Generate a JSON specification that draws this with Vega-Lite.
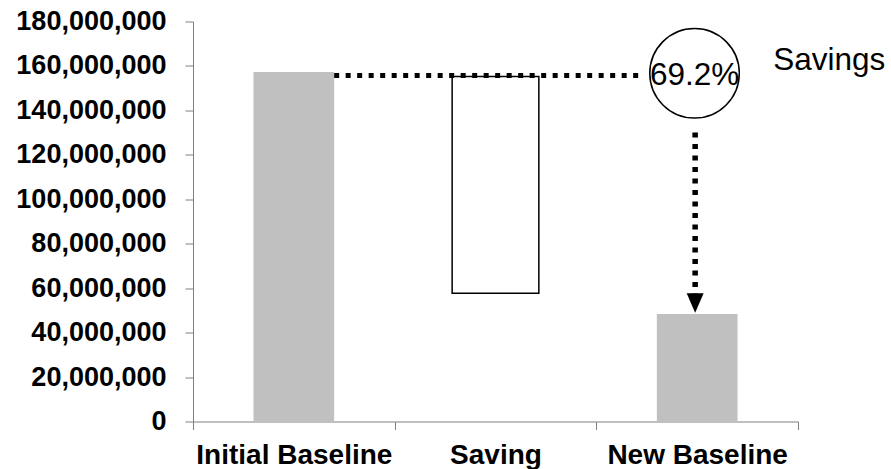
{
  "$schema": "https://vega.github.io/schema/vega-lite/v6.json",
  "width": 605,
  "height": 400,
  "autosize": "none",
  "padding": {"left": 193, "top": 21.5, "right": 93, "bottom": 47.5},
  "background": "white",
  "config": {
    "view": {"stroke": null},
    "font": "Liberation Sans",
    "axisX": {
      "domainColor": "#808080",
      "tickColor": "#808080",
      "tickSize": 8,
      "labelFont": "Liberation Sans",
      "labelFontSize": 28,
      "labelFontWeight": "bold",
      "labelColor": "#000000",
      "labelPadding": 12,
      "labelAngle": 0,
      "labelLimit": 400,
      "grid": false
    },
    "axisY": {
      "domainColor": "#808080",
      "tickColor": "#808080",
      "tickSize": 8,
      "labelFont": "Liberation Sans",
      "labelFontSize": 27,
      "labelFontWeight": "bold",
      "labelColor": "#000000",
      "labelPadding": 19,
      "labelLimit": 400,
      "grid": false
    }
  },
  "datasets": {
    "stages": [
      {"stage": "Initial Baseline", "low": 0, "high": 157300000, "kind": "total"},
      {"stage": "Saving", "low": 57700000, "high": 155200000, "kind": "step"},
      {"stage": "New Baseline", "low": 0, "high": 48400000, "kind": "total"}
    ]
  },
  "layer": [
    {
      "data": {"name": "stages"},
      "transform": [{"filter": "datum.kind === 'total'"}],
      "mark": {"type": "bar", "width": {"band": 0.4}, "color": "#c0c0c0"},
      "encoding": {
        "x": {
          "field": "stage",
          "type": "nominal",
          "sort": null,
          "title": null,
          "scale": {"domain": ["Initial Baseline", "Saving", "New Baseline"], "paddingInner": 0, "paddingOuter": 0},
          "axis": {"tickBand": "extent", "title": null}
        },
        "y": {
          "field": "high",
          "type": "quantitative",
          "title": null,
          "scale": {"domain": [0, 180000000], "nice": false},
          "axis": {
            "title": null,
            "format": ",d",
            "values": [0, 20000000, 40000000, 60000000, 80000000, 100000000, 120000000, 140000000, 160000000, 180000000]
          }
        },
        "y2": {"field": "low"}
      }
    },
    {
      "data": {"name": "stages"},
      "transform": [{"filter": "datum.kind === 'step'"}],
      "mark": {"type": "bar", "width": {"band": 0.43}, "fill": "#ffffff", "stroke": "#000000", "strokeWidth": 1.5},
      "encoding": {
        "x": {"field": "stage", "type": "nominal", "sort": null, "title": null},
        "y": {"field": "high", "type": "quantitative", "title": null},
        "y2": {"field": "low"}
      }
    },
    {
      "data": {"values": [{"from": "Initial Baseline", "to": "New Baseline", "level": 155700000}]},
      "mark": {"type": "rule", "color": "#000000", "strokeWidth": 5, "strokeDash": [5, 6.5]},
      "encoding": {
        "x": {"field": "from", "type": "nominal", "bandPosition": 0.7, "title": null},
        "x2": {"field": "to", "bandPosition": 0.234},
        "y": {"field": "level", "type": "quantitative", "title": null}
      }
    },
    {
      "data": {"values": [{"at": "New Baseline", "top": 130000000, "bottom": 57400000}]},
      "mark": {"type": "rule", "color": "#000000", "strokeWidth": 5.5, "strokeDash": [5, 6.5]},
      "encoding": {
        "x": {"field": "at", "type": "nominal", "bandPosition": 0.49, "title": null},
        "y": {"field": "top", "type": "quantitative", "title": null},
        "y2": {"field": "bottom"}
      }
    },
    {
      "data": {"values": [{"at": "New Baseline", "level": 53300000}]},
      "mark": {"type": "point", "shape": "M-1,-1.15L1,-1.15L0,1.15Z", "size": 289, "filled": true, "color": "#000000", "opacity": 1},
      "encoding": {
        "x": {"field": "at", "type": "nominal", "bandPosition": 0.49, "title": null},
        "y": {"field": "level", "type": "quantitative", "title": null}
      }
    },
    {
      "data": {"values": [{"at": "New Baseline", "level": 156700000}]},
      "mark": {"type": "point", "shape": "circle", "size": 8012, "filled": false, "fill": "#ffffff", "fillOpacity": 1, "stroke": "#000000", "strokeWidth": 1.5, "opacity": 1},
      "encoding": {
        "x": {"field": "at", "type": "nominal", "bandPosition": 0.487, "title": null},
        "y": {"field": "level", "type": "quantitative", "title": null}
      }
    },
    {
      "data": {"values": [{"at": "New Baseline", "level": 151400000, "share": "69.2%"}]},
      "mark": {"type": "text", "font": "Liberation Sans", "fontSize": 31.5, "align": "center", "baseline": "alphabetic", "color": "#000000"},
      "encoding": {
        "x": {"field": "at", "type": "nominal", "bandPosition": 0.487, "title": null},
        "y": {"field": "level", "type": "quantitative", "title": null},
        "text": {"field": "share"}
      }
    },
    {
      "data": {"values": [{"at": "New Baseline", "level": 158200000, "note": "Savings"}]},
      "mark": {"type": "text", "font": "Liberation Sans", "fontSize": 31.5, "align": "left", "baseline": "alphabetic", "color": "#000000"},
      "encoding": {
        "x": {"field": "at", "type": "nominal", "bandPosition": 0.877, "title": null},
        "y": {"field": "level", "type": "quantitative", "title": null},
        "text": {"field": "note"}
      }
    }
  ]
}
